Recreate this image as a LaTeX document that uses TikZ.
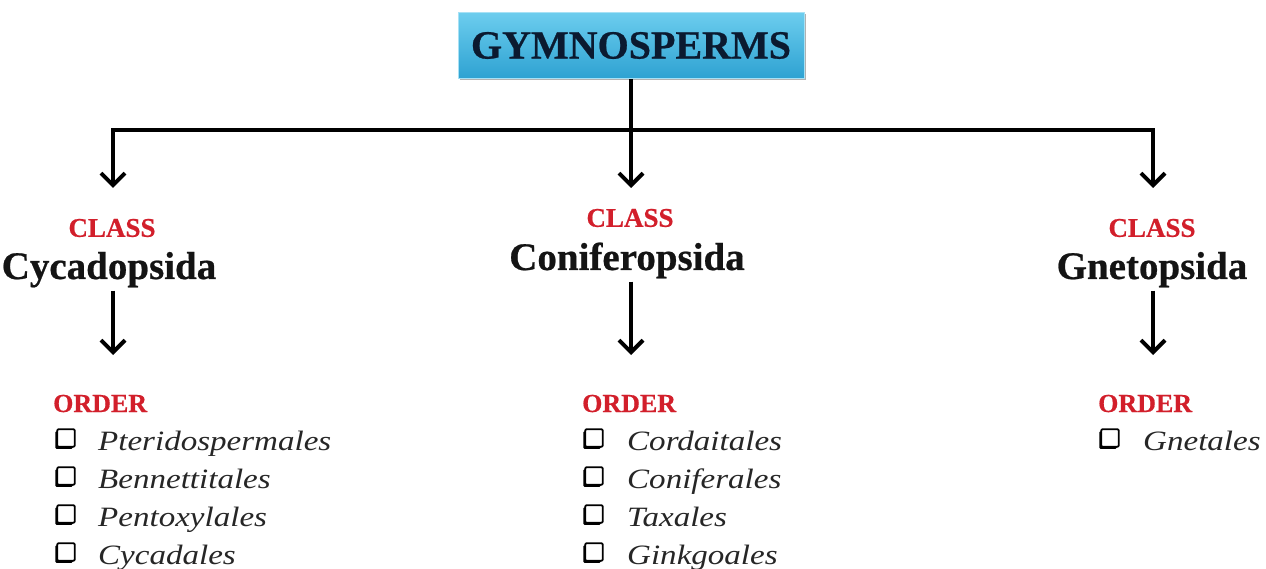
\documentclass[tikz,border=0pt]{standalone}
\usepackage{fontspec}
\setmainfont[BoldFeatures={FakeBold=0.6}]{Liberation Serif}
\newfontfamily\itfont[FakeStretch=1.18]{Liberation Serif}
\usetikzlibrary{arrows.meta,shadows}
\definecolor{redc}{HTML}{D21F2B}
\definecolor{boxtop}{HTML}{6CCDEE}
\definecolor{boxbot}{HTML}{2EA2D2}
\definecolor{navy}{HTML}{0B1A30}
\begin{document}
\begin{tikzpicture}[x=1pt,y=-1pt,
  conn/.style={line width=4pt, line join=miter, -{Straight Barb[length=12pt,width=24pt]}},
  trunk/.style={line width=4pt},
  cls/.style={font=\bfseries\fontsize{27}{30}\selectfont, text=redc, inner sep=0pt},
  taxon/.style={font=\bfseries\fontsize{39}{44}\selectfont, text=black!92, anchor=base, inner sep=3pt},
  ord/.style={font=\bfseries\fontsize{26}{28}\selectfont, text=redc, anchor=base west, inner sep=0pt},
  item/.style={font=\itfont\itshape\fontsize{28}{30}\selectfont, text=black!85, anchor=base west, inner sep=0pt},
  chk/.style={draw, fill=white, line width=1.8pt, minimum size=17.5pt, inner sep=0pt, rounded corners=1.2pt,
    drop shadow={shadow xshift=-2pt, shadow yshift=-2pt, opacity=1, fill=black}}
]
\useasboundingbox (0,0) rectangle (1266,569);

% top box
\node[draw=boxtop!60!white, line width=1pt, top color=boxtop, bottom color=boxbot,
  minimum width=346pt, minimum height=66pt, inner sep=0pt,
  font=\bfseries\fontsize{40}{44}\selectfont, text=navy,
  drop shadow={shadow xshift=2pt, shadow yshift=-2pt, opacity=0.3, fill=black}]
  (top) at (631,45.5) {GYMNOSPERMS};

% junctions and arrow tips
\coordinate (j) at (631,130);
\coordinate (t1) at (113,188);
\coordinate (t2) at (631,188);
\coordinate (t3) at (1153,188);
\draw[trunk] (top.south) -- (j);
\draw[conn] (j) -| (t1);
\draw[conn] (j) -| (t3);
\draw[conn] (j) -- (t2);

% classes
\node[cls] (c1) at (112,228) {CLASS};
\node[cls] (c2) at (630,218) {CLASS};
\node[cls] (c3) at (1152,228) {CLASS};
\node[taxon] (n1) at (109,279) {Cycadopsida};
\node[taxon] (n2) at (627,270) {Coniferopsida};
\node[taxon] (n3) at (1152,279) {Gnetopsida};

\coordinate (d1) at (113,355);
\coordinate (d2) at (631,355);
\coordinate (d3) at (1153,355);
\draw[conn] (n1.south -| d1) -- (d1);
\draw[conn] (n2.south -| d2) -- (d2);
\draw[conn] (n3.south -| d3) -- (d3);

% orders
\node[ord] (o1) at (53,412) {ORDER};
\node[ord] (o2) at (582,412) {ORDER};
\node[ord] (o3) at (1098,412) {ORDER};

% left list
\node[chk] (b11) at (66,438) {};
\node[item] (i11) at (98,450) {Pteridospermales};
\node[chk] (b12) at (66,476) {};
\node[item] (i12) at (98,488) {Bennettitales};
\node[chk] (b13) at (66,514) {};
\node[item] (i13) at (98,526) {Pentoxylales};
\node[chk] (b14) at (66,552) {};
\node[item] (i14) at (98,564) {Cycadales};

% middle list
\node[chk] (b21) at (594,438) {};
\node[item] (i21) at (627,450) {Cordaitales};
\node[chk] (b22) at (594,476) {};
\node[item] (i22) at (627,488) {Coniferales};
\node[chk] (b23) at (594,514) {};
\node[item] (i23) at (627,526) {Taxales};
\node[chk] (b24) at (594,552) {};
\node[item] (i24) at (627,564) {Ginkgoales};

% right list
\node[chk] (b31) at (1110,438) {};
\node[item] (i31) at (1143,450) {Gnetales};
\end{tikzpicture}
\end{document}
